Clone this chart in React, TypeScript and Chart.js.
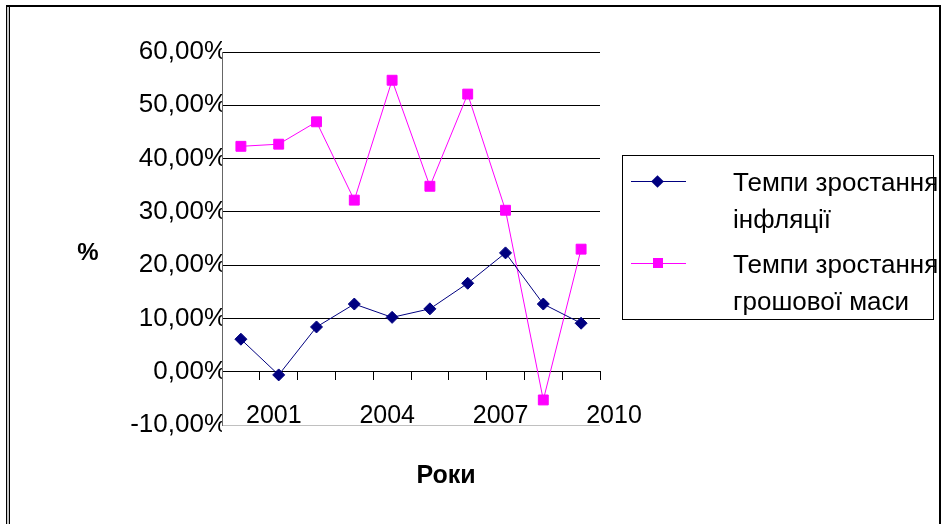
import React, { useEffect, useRef } from "react";
import { Chart, registerables } from "chart.js";

Chart.register(...registerables);

const years = ["2000", "2001", "2002", "2003", "2004", "2005", "2006", "2007", "2008", "2009"];
const inflation = [6.1, -0.6, 8.4, 12.7, 10.2, 11.8, 16.6, 22.3, 12.7, 9.1];
const moneySupply = [42.3, 42.7, 46.9, 32.2, 54.7, 34.8, 52.1, 30.3, -5.3, 23.0];
const xTickLabels = ["", "2001", "", "", "2004", "", "", "2007", "", "", "2010"];
const seriesNames = ["Темпи зростання інфляції", "Темпи зростання грошової маси"];
const yMin = -10;
const yMax = 60;
const yStep = 10;

const FONT = "'Liberation Sans', Arial, sans-serif";

export default function App() {
  const canvasRef = useRef<HTMLCanvasElement | null>(null);

  useEffect(() => {
    if (!canvasRef.current) return;
    const chart = new Chart(canvasRef.current, {
      type: "line",
      data: {
        datasets: [
          {
            label: seriesNames[0],
            data: years.map((_, i) => ({ x: i + 0.5, y: inflation[i] })),
            borderColor: "#000080",
            backgroundColor: "#000080",
            borderWidth: 1,
            pointStyle: "rectRot",
            pointRadius: 6,
            pointBorderWidth: 1,
            tension: 0,
          },
          {
            label: seriesNames[1],
            data: years.map((_, i) => ({ x: i + 0.5, y: moneySupply[i] })),
            borderColor: "#FF00FF",
            backgroundColor: "#FF00FF",
            borderWidth: 1,
            pointStyle: "rect",
            pointRadius: 7,
            pointBorderWidth: 1,
            tension: 0,
          },
        ],
      },
      options: {
        animation: false,
        responsive: true,
        maintainAspectRatio: false,
        layout: { padding: { left: 122, right: 342, top: 52, bottom: 99 } },
        plugins: { legend: { display: false }, tooltip: { enabled: false } },
        scales: {
          x: {
            type: "linear",
            position: { y: 0 } as any,
            min: 0,
            max: years.length,
            ticks: {
              stepSize: 1,
              autoSkip: false,
              maxRotation: 0,
              padding: 21,
              labelOffset: 14,
              color: "#000",
              font: { family: FONT, size: 25 },
              callback: (v: any) => xTickLabels[Math.round(Number(v))] ?? "",
            },
            grid: {
              drawOnChartArea: false,
              drawTicks: true,
              tickLength: 8,
              color: "#000",
            },
            border: { display: true, color: "#000", width: 1 },
          },
          y: {
            type: "linear",
            min: yMin,
            max: yMax,
            afterFit: (scale: any) => {
              scale.width = 100;
            },
            ticks: {
              stepSize: yStep,
              padding: -5,
              color: "#000",
              font: { family: FONT, size: 26 },
              callback: (v: any) => Number(v).toFixed(2).replace(".", ",") + "%",
            },
            grid: {
              drawTicks: false,
              tickLength: 0,
              color: (ctx: any) => (ctx.tick && ctx.tick.value === yMin ? "#c0c0c0" : "#000"),
            },
            border: { display: true, color: "#666", width: 1 },
          },
        },
      },
    });
    return () => chart.destroy();
  }, []);

  const legendText: React.CSSProperties = {
    position: "absolute",
    left: 733,
    fontFamily: FONT,
    fontSize: 26,
    lineHeight: "37px",
    whiteSpace: "nowrap",
    color: "#000",
  };

  return (
    <div
      style={{
        position: "fixed",
        left: 0,
        top: 0,
        width: 942,
        height: 524,
        background: "#fff",
        overflow: "hidden",
      }}
    >
      <div style={{ position: "absolute", left: 0, top: 0, width: 942, height: 524 }}>
        <canvas ref={canvasRef} />
      </div>
      <div
        style={{
          position: "absolute",
          left: 88,
          top: 252,
          transform: "translate(-50%, -50%)",
          fontFamily: FONT,
          fontWeight: "bold",
          fontSize: 24,
        }}
      >
        %
      </div>
      <div
        style={{
          position: "absolute",
          left: 446,
          top: 474,
          transform: "translate(-50%, -50%)",
          fontFamily: FONT,
          fontWeight: "bold",
          fontSize: 25,
          whiteSpace: "nowrap",
        }}
      >
        Роки
      </div>
      <div style={{ position: "absolute", left: 0, top: 0, width: 937, height: 524, overflow: "hidden" }}>
        <div
          style={{
            position: "absolute",
            left: 622,
            top: 155,
            width: 310,
            height: 163,
            border: "1px solid #000",
          }}
        />
        <div style={{ position: "absolute", left: 631, top: 181, width: 55, height: 1, background: "#000080" }} />
        <div
          style={{
            position: "absolute",
            left: 653,
            top: 177,
            width: 9,
            height: 9,
            background: "#000080",
            transform: "rotate(45deg)",
          }}
        />
        <div style={{ position: "absolute", left: 631, top: 263, width: 55, height: 1, background: "#FF00FF" }} />
        <div
          style={{
            position: "absolute",
            left: 653,
            top: 258,
            width: 10,
            height: 10,
            background: "#FF00FF",
          }}
        />
        <div style={{ ...legendText, top: 164 }}>
          Темпи зростання
          <br />
          інфляції
        </div>
        <div style={{ ...legendText, top: 246 }}>
          Темпи зростання
          <br />
          грошової маси
        </div>
      </div>
      <div
        style={{
          position: "absolute",
          left: 6,
          top: 5,
          width: 932,
          height: 600,
          borderTop: "2px solid #000",
          borderLeft: "1px solid #000",
          borderRight: "2px solid #000",
        }}
      />
      <div style={{ position: "absolute", left: 7, top: 7, width: 2, height: 600, background: "#c8c8c8" }} />
      <div style={{ position: "absolute", left: 9, top: 7, width: 1, height: 600, background: "#000" }} />
    </div>
  );
}
